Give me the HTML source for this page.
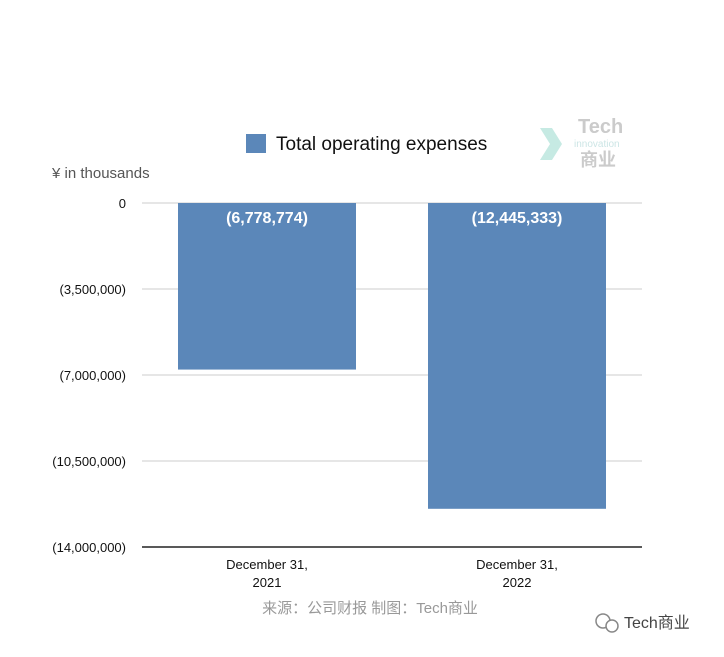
<!DOCTYPE html>
<html><head><meta charset="utf-8">
<style>
body{margin:0;background:#fff;width:724px;height:652px;overflow:hidden;font-family:"Liberation Sans","Noto Sans CJK SC",sans-serif;}
svg text{font-family:"Liberation Sans","Noto Sans CJK SC",sans-serif;}
</style></head>
<body>
<svg id="chart" width="724" height="652" xmlns="http://www.w3.org/2000/svg">
<g id="grid"></g>
<g id="bars"></g>
<g id="labels"></g>
<rect x="246" y="134" width="20" height="19" fill="#5b87b9"/>
<text x="276" y="150" font-size="19" fill="#111">Total operating expenses</text>
<text x="52" y="178" font-size="15" fill="#555">¥  in thousands</text>
<g opacity="0.5">
<polygon points="540,128 552,128 562,144 552,160 540,160 550,144" fill="#8fd6c8"/>
<text x="578" y="133" font-size="20" font-weight="bold" fill="#999" font-family="Liberation Serif,serif">Tech</text>
<text x="574" y="147" font-size="10" fill="#9cc">innovation</text>
<text x="580" y="166" font-size="18" font-weight="bold" fill="#999">商业</text>
</g>
<text x="370" y="613" font-size="15" fill="#999" text-anchor="middle">来源：公司财报 制图：Tech商业</text>
<g>
<circle cx="603" cy="621" r="7" fill="none" stroke="#888" stroke-width="1.5"/>
<circle cx="612" cy="626" r="6" fill="#fff" stroke="#888" stroke-width="1.5"/>
<text x="624" y="628" font-size="16" fill="#444">Tech商业</text>
</g>
</svg>
<script>
const categories=["December 31,|2021","December 31,|2022"];
const values=[-6778774,-12445333];
const valueLabels=["(6,778,774)","(12,445,333)"];
const ticks=[0,-3500000,-7000000,-10500000,-14000000];
const tickLabels=["0","(3,500,000)","(7,000,000)","(10,500,000)","(14,000,000)"];
const NS="http://www.w3.org/2000/svg";
const x0=142,x1=642,yTop=203,yBot=547;
function y(v){return yTop+(v/-14000000)*(yBot-yTop);}
function mk(t,a,p){const e=document.createElementNS(NS,t);for(const k in a)e.setAttribute(k,a[k]);p.appendChild(e);return e;}
const grid=document.getElementById('grid'),bars=document.getElementById('bars'),labels=document.getElementById('labels');
ticks.forEach((t,i)=>{
 const last=i===ticks.length-1;
 const l=mk('line',{x1:x0,x2:x1,y1:y(t),y2:y(t),stroke:last?'#222':'#ccc','stroke-width':last?1.5:1},grid);
 
 
 const tx=mk('text',{x:126,y:y(t)+5,'font-size':13,'text-anchor':'end',fill:'#111'},grid);
 tx.textContent=tickLabels[i];
 
 
});
const band=(x1-x0)/categories.length, bw=178;
categories.forEach((c,i)=>{
 const cx=x0+band*i+band/2;
 const r=mk('rect',{x:cx-bw/2,y:y(0),width:bw,height:y(values[i])-y(0),fill:'#5b87b9'},bars);
 
 
 const v=mk('text',{x:cx,y:y(0)+20,'font-size':16,'font-weight':'bold','text-anchor':'middle',fill:'#fff'},labels);
 v.textContent=valueLabels[i];
 
 
 c.split('|').forEach((ln,j)=>{
  const t=mk('text',{x:cx,y:569+j*18,'font-size':13,'text-anchor':'middle',fill:'#111'},labels);
  t.textContent=ln;
  
  
 });
});
</script>
</body></html>
